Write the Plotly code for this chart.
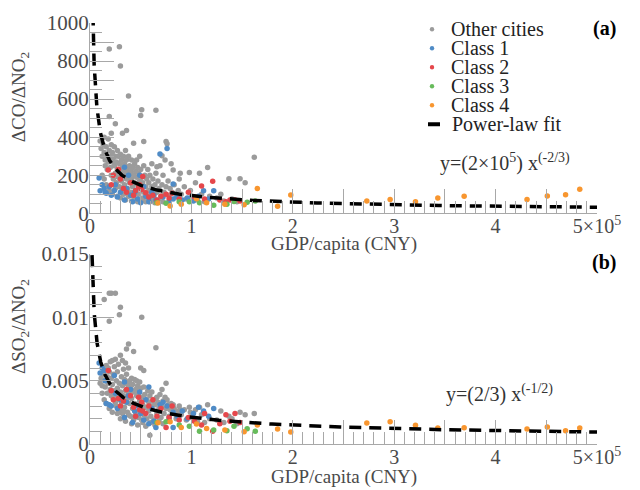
import numpy as np
import plotly.graph_objects as go

# (GDP per capita [1e5 CNY], dCO/dNO2, dSO2/dNO2)
other_cities = [
    (0.19, 863, 0.0119), (0.29, 875, 0.0102), (0.30, 774, 0.0108), (0.38, 617, 0.0079),
    (0.51, 544, 0.0100), (0.65, 542, 0.0076), (0.50, 514, 0.0060), (0.19, 509, 0.0097),
    (0.25, 470, 0.0119), (0.21, 420, 0.0119), (0.14, 400, 0.0114), (0.36, 435, 0.0075),
    (0.43, 368, 0.0073), (0.53, 377, 0.0058), (0.75, 377, 0.0048), (0.76, 365, 0.0035),
    (0.32, 420, 0.0066), (1.62, 295, 0.0024), (1.16, 240, 0.0031), (1.37, 181, 0.0022),
    (1.48, 181, 0.0025), (1.53, 161, 0.0023), (1.08, 210, 0.0029), (0.98, 214, 0.0029),
    (0.89, 210, 0.0027), (0.82, 228, 0.0031), (0.71, 302, 0.0043), (0.66, 245, 0.0037),
    (0.59, 60, 0.0007),
    (0.10, 380, 0.0048), (0.11, 340, 0.0052), (0.12, 300, 0.0046), (0.13, 360, 0.0055),
    (0.14, 320, 0.0058), (0.15, 280, 0.0050), (0.15, 250, 0.0045), (0.16, 350, 0.0062),
    (0.17, 300, 0.0053), (0.17, 230, 0.0040), (0.18, 390, 0.0060), (0.18, 270, 0.0048),
    (0.19, 330, 0.0057), (0.20, 240, 0.0043), (0.20, 300, 0.0065), (0.21, 200, 0.0038),
    (0.21, 360, 0.0052), (0.22, 270, 0.0047), (0.22, 320, 0.0066), (0.23, 180, 0.0036),
    (0.23, 290, 0.0055), (0.24, 250, 0.0042), (0.24, 350, 0.0061), (0.25, 210, 0.0039),
    (0.25, 300, 0.0067), (0.26, 160, 0.0030), (0.26, 270, 0.0050), (0.27, 330, 0.0057),
    (0.27, 230, 0.0044), (0.28, 190, 0.0036), (0.28, 300, 0.0063), (0.29, 260, 0.0048),
    (0.29, 140, 0.0026), (0.30, 310, 0.0070), (0.30, 220, 0.0041), (0.31, 170, 0.0033),
    (0.31, 280, 0.0053), (0.32, 240, 0.0046), (0.32, 120, 0.0024), (0.33, 300, 0.0059),
    (0.33, 200, 0.0038), (0.34, 260, 0.0051), (0.34, 150, 0.0029), (0.35, 330, 0.0064),
    (0.35, 220, 0.0042), (0.36, 180, 0.0035), (0.36, 280, 0.0055), (0.37, 240, 0.0047),
    (0.37, 130, 0.0025), (0.38, 300, 0.0060), (0.38, 200, 0.0040), (0.39, 160, 0.0032),
    (0.39, 250, 0.0050), (0.40, 220, 0.0044), (0.40, 110, 0.0022), (0.41, 280, 0.0052),
    (0.41, 180, 0.0036), (0.42, 140, 0.0028), (0.42, 240, 0.0047), (0.43, 200, 0.0041),
    (0.43, 90, 0.0019), (0.44, 260, 0.0051), (0.44, 160, 0.0032), (0.45, 220, 0.0043),
    (0.45, 120, 0.0025), (0.46, 190, 0.0038), (0.46, 280, 0.0050), (0.47, 150, 0.0030),
    (0.47, 240, 0.0046), (0.48, 100, 0.0021), (0.48, 210, 0.0040), (0.49, 170, 0.0034),
    (0.49, 300, 0.0049), (0.50, 130, 0.0027), (0.50, 230, 0.0044), (0.51, 190, 0.0037),
    (0.52, 80, 0.0017), (0.52, 160, 0.0031), (0.53, 250, 0.0045), (0.53, 110, 0.0023),
    (0.54, 200, 0.0039), (0.55, 140, 0.0029), (0.56, 180, 0.0035), (0.56, 90, 0.0020),
    (0.57, 230, 0.0042), (0.58, 120, 0.0026), (0.58, 160, 0.0033), (0.59, 200, 0.0038),
    (0.60, 100, 0.0022), (0.61, 140, 0.0030), (0.61, 260, 0.0041), (0.62, 180, 0.0034),
    (0.63, 80, 0.0019), (0.64, 150, 0.0031), (0.65, 210, 0.0036), (0.66, 110, 0.0024),
    (0.67, 170, 0.0033), (0.68, 130, 0.0028), (0.69, 250, 0.0039), (0.70, 90, 0.0021),
    (0.71, 150, 0.0030), (0.72, 200, 0.0034), (0.73, 110, 0.0024), (0.74, 280, 0.0037),
    (0.75, 140, 0.0028), (0.77, 170, 0.0031), (0.78, 95, 0.0022), (0.79, 130, 0.0027),
    (0.80, 260, 0.0032), (0.81, 110, 0.0025), (0.83, 150, 0.0028), (0.85, 85, 0.0020),
    (0.87, 120, 0.0026), (0.88, 180, 0.0030), (0.90, 100, 0.0023), (0.93, 140, 0.0027),
    (0.95, 75, 0.0019), (0.99, 120, 0.0025), (1.00, 90, 0.0021), (1.04, 160, 0.0027),
    (1.06, 70, 0.0018), (1.10, 100, 0.0023), (1.13, 60, 0.0017), (1.18, 90, 0.0020),
    (1.25, 80, 0.0019), (1.29, 100, 0.0026), (1.32, 65, 0.0017), (1.40, 75, 0.0020),
    (1.45, 60, 0.0016), (0.12, 200, 0.0040), (0.14, 180, 0.0035), (0.16, 150, 0.0032),
    (0.19, 120, 0.0028), (0.22, 100, 0.0025), (0.25, 130, 0.0033), (0.27, 90, 0.0024),
    (0.30, 80, 0.0020), (0.33, 100, 0.0027), (0.35, 70, 0.0018), (0.38, 90, 0.0023),
    (0.41, 65, 0.0016), (0.44, 75, 0.0021), (0.47, 60, 0.0015), (0.51, 70, 0.0019),
    (0.55, 60, 0.0014), (0.60, 65, 0.0017), (0.64, 55, 0.0015), (0.68, 70, 0.0018),
    (0.72, 60, 0.0016),
]

class_1 = [
    (0.09, 186, 0.0064), (0.10, 119, 0.0056), (0.12, 150, 0.0060), (0.14, 130, 0.0058),
    (0.16, 105, 0.0032), (0.19, 140, 0.0031), (0.21, 95, 0.0030), (0.24, 120, 0.0054),
    (0.27, 85, 0.0028), (0.30, 110, 0.0035), (0.34, 242, 0.0049), (0.34, 70, 0.0021),
    (0.36, 130, 0.0033), (0.38, 200, 0.0038), (0.40, 95, 0.0043), (0.42, 60, 0.0017),
    (0.45, 120, 0.0022), (0.47, 75, 0.0030), (0.49, 200, 0.0041), (0.50, 55, 0.0024),
    (0.53, 140, 0.0019), (0.55, 90, 0.0035), (0.58, 80, 0.0045), (0.58, 60, 0.0016),
    (0.61, 110, 0.0028), (0.65, 70, 0.0013), (0.69, 312, 0.0031), (0.72, 85, 0.0033),
    (0.76, 340, 0.0030), (0.78, 65, 0.0020), (0.82, 154, 0.0025), (0.82, 75, 0.0013),
    (0.86, 90, 0.0022), (0.91, 70, 0.0026), (0.96, 80, 0.0020), (1.02, 65, 0.0024),
    (1.07, 90, 0.0029), (1.12, 119, 0.0026), (1.17, 75, 0.0022), (1.22, 119, 0.0028),
    (0.15, 110, 0.0050), (0.25, 150, 0.0040), (0.44, 110, 0.0026), (0.63, 95, 0.0018),
]

class_2 = [
    (0.18, 228, 0.0058), (0.21, 150, 0.0042), (0.23, 200, 0.0035), (0.28, 232, 0.0036),
    (0.30, 180, 0.0030), (0.33, 130, 0.0034), (0.36, 110, 0.0043), (0.40, 160, 0.0038),
    (0.43, 95, 0.0029), (0.45, 120, 0.0022), (0.48, 140, 0.0037), (0.49, 150, 0.0027),
    (0.51, 125, 0.0033), (0.52, 193, 0.0026), (0.55, 108, 0.0024), (0.58, 85, 0.0030),
    (0.62, 95, 0.0035), (0.66, 70, 0.0022), (0.70, 90, 0.0028), (0.75, 100, 0.0013),
    (0.78, 80, 0.0021), (0.81, 105, 0.0030), (0.88, 75, 0.0019), (0.97, 110, 0.0021),
    (1.03, 85, 0.0018), (1.10, 144, 0.0015), (1.13, 75, 0.0024), (1.21, 168, 0.0010),
    (1.28, 70, 0.0016), (1.34, 60, 0.0023), (1.38, 70, 0.0018), (1.43, 70, 0.0024),
    (1.48, 65, 0.0017),
]

class_3 = [
    (0.66, 55, 0.0017), (0.75, 53, 0.00176), (0.88, 60, 0.0015), (0.98, 61, 0.0014),
    (1.08, 56, 0.0010), (1.22, 42, 0.0011), (1.35, 47, 0.00105), (1.42, 62, 0.0014),
    (1.55, 58, 0.0012), (1.63, 65, 0.0010),
]

class_4 = [
    (0.67, 54, 0.00168), (0.79, 38, 0.00176), (0.90, 48, 0.0013), (1.05, 77, 0.00158),
    (1.15, 56, 0.00122), (1.33, 47, 0.0011), (1.52, 45, 0.00097), (1.65, 130, 0.0015),
    (1.85, 37, 0.00118), (1.98, 96, 0.00095), (2.73, 65, 0.00166), (2.96, 72, 0.00176),
    (3.21, 61, 0.00148), (3.43, 81, 0.00126), (3.69, 89, 0.00129), (4.31, 72, 0.00118),
    (4.51, 91, 0.00134), (4.69, 98, 0.00105), (4.83, 126, 0.00126),
]

groups = [
    ("Other cities", other_cities, "#9b9b9b"),
    ("Class 1", class_1, "#4f8bc6"),
    ("Class 2", class_2, "#e5474b"),
    ("Class 3", class_3, "#67bb5b"),
    ("Class 4", class_4, "#f8962f"),
]

# power-law fits quoted on the chart: y = a * GDP^b
co_fit_coef, co_fit_exp = 2e5, -2 / 3
so2_fit_coef, so2_fit_exp = 2 / 3, -1 / 2
gdp_unit = 1e5

x_tick_vals = [0, 0.5, 1, 1.5, 2, 2.5, 3, 3.5, 4, 4.5, 5]
x_tick_text = ["0", "", "1", "", "2", "", "3", "", "4", "", "5×10<sup>5</sup>"]
co_tick_vals = [0, 100, 200, 300, 400, 500, 600, 700, 800, 900, 1000]
co_tick_text = ["0", "", "200", "", "400", "", "600", "", "800", "", "1000"]
so2_tick_vals = [0, 0.005, 0.01, 0.015]
so2_tick_text = ["0", "0.005", "0.01", "0.015"]

SERIF = "Liberation Serif, Times New Roman, serif"
AXIS_GREY = "#a8a8a8"
TEXT_GREY = "#4a4a4a"

fig = go.Figure()

for name, rows, color in groups:
    gdp = [r[0] for r in rows]
    co = [r[1] for r in rows]
    so2 = [r[2] for r in rows]
    fig.add_trace(go.Scatter(x=gdp, y=co, mode="markers", name=name, showlegend=False,
                             marker={"color": color, "size": 5.5},
                             xaxis="x", yaxis="y"))
    fig.add_trace(go.Scatter(x=gdp, y=so2, mode="markers", name=name, showlegend=False,
                             marker={"color": color, "size": 5.5},
                             xaxis="x2", yaxis="y2"))

fit_x = np.geomspace(0.02, 5, 400)
fit_line = {"color": "black", "width": 3.5, "dash": "12px,8px"}
fig.add_trace(go.Scatter(x=fit_x, y=co_fit_coef * (fit_x * gdp_unit) ** co_fit_exp,
                         mode="lines", name="Power-law fit", line=fit_line, showlegend=False,
                         xaxis="x", yaxis="y"))
fig.add_trace(go.Scatter(x=fit_x, y=so2_fit_coef * (fit_x * gdp_unit) ** so2_fit_exp,
                         mode="lines", name="Power-law fit", line=fit_line, showlegend=False,
                         xaxis="x2", yaxis="y2"))


def x_axis(anchor):
    return dict(
        range=[0, 5], anchor=anchor, showgrid=False, zeroline=False,
        showline=True, linecolor=AXIS_GREY, linewidth=1,
        tickmode="array", tickvals=x_tick_vals, ticktext=x_tick_text,
        ticks="inside", ticklen=24, tickcolor=AXIS_GREY, tickwidth=1,
        minor={"tickmode": "linear", "tick0": 0, "dtick": 0.1, "ticks": "inside",
               "ticklen": 12, "tickcolor": AXIS_GREY, "tickwidth": 1},
        tickfont={"family": SERIF, "size": 20, "color": TEXT_GREY},
        ticklabelstandoff=-5,
        automargin=False,
    )


def y_axis(anchor, domain, rng, vals, text, minor_step):
    return dict(
        domain=domain, range=rng, anchor=anchor, showgrid=False, zeroline=False,
        showline=True, linecolor=AXIS_GREY, linewidth=1,
        tickmode="array", tickvals=vals, ticktext=text,
        ticks="inside", ticklen=24, tickcolor=AXIS_GREY, tickwidth=1,
        minor={"tickmode": "linear", "tick0": 0, "dtick": minor_step, "ticks": "inside",
               "ticklen": 12, "tickcolor": AXIS_GREY, "tickwidth": 1},
        tickfont={"family": SERIF, "size": 21, "color": TEXT_GREY},
        ticklabelstandoff=-4,
        automargin=False,
    )


fig.update_layout(
    width=640, height=490,
    margin={"l": 90, "r": 43, "t": 23, "b": 46},
    paper_bgcolor="white", plot_bgcolor="white",
    xaxis=x_axis("y"),
    yaxis=y_axis("x", [0.548, 1], [0, 1000], co_tick_vals, co_tick_text, 50),
    xaxis2=x_axis("y2"),
    yaxis2=y_axis("x2", [0, 0.4513], [0, 0.015], so2_tick_vals, so2_tick_text, 0.001),
    showlegend=False,
)

title_font = {"family": SERIF, "size": 19, "color": TEXT_GREY}
for y_pos in [0.474, -0.079]:
    fig.add_annotation(x=0.5, y=y_pos, xref="paper", yref="paper", text="GDP/capita (CNY)",
                       showarrow=False, xanchor="center", yanchor="middle", font=title_font)
fig.add_annotation(x=-0.138, y=0.824, xref="paper", yref="paper", textangle=-90,
                   xanchor="center", yanchor="middle",
                   text="ΔCO/ΔNO<sub>2</sub>", showarrow=False, font=title_font)
fig.add_annotation(x=-0.138, y=0.278, xref="paper", yref="paper", textangle=-90,
                   xanchor="center", yanchor="middle",
                   text="ΔSO<sub>2</sub>/ΔNO<sub>2</sub>", showarrow=False, font=title_font)

# hand-drawn legend in panel (a)
legend_dot_x, legend_text_x = 0.6746, 0.708
legend_top, legend_step = 0.985, 0.0451
legend_font = {"family": SERIF, "size": 20, "color": "#222222"}
for i, (name, _, color) in enumerate(groups):
    row_y = legend_top - i * legend_step
    fig.add_shape(type="circle", xref="paper", yref="paper", xsizemode="pixel",
                  ysizemode="pixel", xanchor=legend_dot_x, yanchor=row_y,
                  x0=-2.2, x1=2.2, y0=-2.2, y1=2.2, fillcolor=color, line_width=0)
    fig.add_annotation(x=legend_text_x, y=row_y, xref="paper", yref="paper", text=name,
                       showarrow=False, xanchor="left", yanchor="middle", font=legend_font)
fit_row_y = legend_top - len(groups) * legend_step
fig.add_shape(type="line", xref="paper", yref="paper", x0=0.6667, x1=0.6903,
              y0=fit_row_y, y1=fit_row_y, line={"color": "black", "width": 4})
fig.add_annotation(x=legend_text_x + 0.003, y=fit_row_y, xref="paper", yref="paper",
                   text="Power-law fit", showarrow=False, xanchor="left", yanchor="middle",
                   font=legend_font)

fig.add_annotation(x=1.014, y=0.988, xref="paper", yref="paper", text="<b>(a)</b>",
                   showarrow=False, xanchor="center", yanchor="middle",
                   font={"family": SERIF, "size": 20, "color": "black"})
fig.add_annotation(x=1.014, y=0.4323, xref="paper", yref="paper", text="<b>(b)</b>",
                   showarrow=False, xanchor="center", yanchor="middle",
                   font={"family": SERIF, "size": 20, "color": "black"})
fig.add_annotation(x=4.09, y=265, xref="x", yref="y",
                   text="y=(2×10<sup>5</sup>) x<sup>(-2/3)</sup>", showarrow=False,
                   font={"family": SERIF, "size": 20, "color": "#333333"})
fig.add_annotation(x=4.04, y=0.00395, xref="x2", yref="y2",
                   text="y=(2/3) x<sup>(-1/2)</sup>", showarrow=False,
                   font={"family": SERIF, "size": 20, "color": "#333333"})

# drop the page's default body margin so the 640x490 figure fills the window
fig.write_html("out.html", config={"displayModeBar": False},
               post_script="document.body.style.margin='0';")
